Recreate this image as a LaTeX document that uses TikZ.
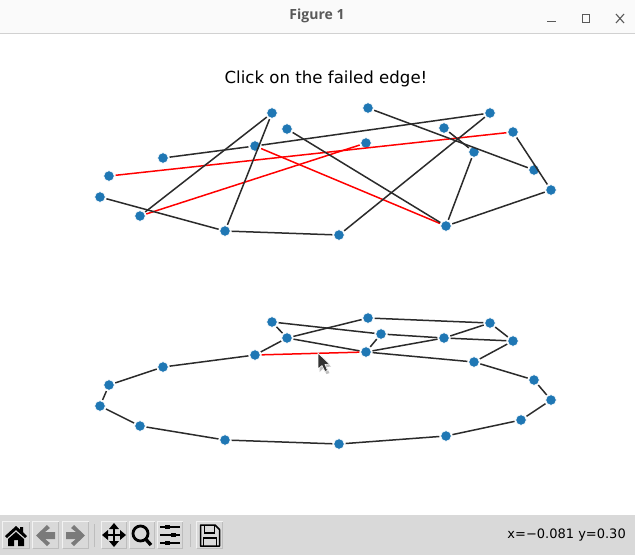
\documentclass[tikz,border=0pt]{standalone}
\usepackage{fontspec}
\setmainfont{DejaVu Sans}
\newfontfamily\titlefont{Open Sans}
\definecolor{nodeblue}{HTML}{1F77B4}
\definecolor{edgedark}{HTML}{2B2B2B}
\definecolor{failred}{HTML}{FF0000}
\definecolor{barbg}{HTML}{FAFAFA}
\definecolor{toolbg}{HTML}{D9D9D9}
\definecolor{btnlight}{HTML}{F2F2F2}
\definecolor{btndark}{HTML}{BDBDBD}
\tikzset{
  x=1pt,y=-1pt,
  gn/.style={circle,fill=nodeblue,draw=white,line width=0.7pt,minimum size=10.6pt,inner sep=0pt,outer sep=1.3pt},
  ge/.style={draw=edgedark,line width=1.5pt},
  re/.style={draw=failred,line width=1.5pt},
  icon/.style={fill=black,draw=none},
  iconline/.style={draw=black,line width=1.6pt},
}
\begin{document}
\begin{tikzpicture}
\useasboundingbox (0,0) rectangle (635,555);
\fill[white] (0,0) rectangle (635,555);
% title bar
\fill[barbg] (0,0) rectangle (635,33);
\draw[color=black!18,line width=1pt] (0,33.5) -- (635,33.5);
\node[font=\titlefont\bfseries\fontsize{14}{16}\selectfont,text=black!65] (wintitle) at (317,16) {Figure 1};
\draw[black!65,line width=1.1pt] (547,21.5) -- (556,21.5);
\draw[black!65,line width=1.1pt] (582.5,14.5) rectangle (589.5,22.5);
\draw[black!65,line width=1.1pt] (616,14) -- (624,23) (624,14) -- (616,23);
\node[font=\fontsize{16.6}{19}\selectfont,text=black] (plottitle) at (326,78.5) {Click on the failed edge!};
% top graph nodes
\foreach \n/\x/\y in {a/272/113,b/287/129,c/368/108,d/490/113,e/513/132,f/444/128,g/474/152,h/534/170,i/551/190,j/446/226,k/339/235,l/225/231,m/140/216,n/100/197,o/109/176,p/163/158,q/255/146,r/366/143}
  \node[gn] (\n) at (\x,\y) {};
\draw[ge] (p) -- (q); \draw[ge] (q) -- (d);
\draw[re] (o) -- (e); \draw[re] (m) -- (r); \draw[re] (q) -- (j);
\draw[ge] (m) -- (a); \draw[ge] (a) -- (l); \draw[ge] (b) -- (j);
\draw[ge] (n) -- (l); \draw[ge] (l) -- (k); \draw[ge] (k) -- (d);
\draw[ge] (c) -- (h); \draw[ge] (f) -- (g); \draw[ge] (g) -- (j);
\draw[ge] (j) -- (i); \draw[ge] (e) -- (i);
% bottom graph nodes
\foreach \n/\x/\y in {A/272/322,B/287/338,C/368/318,T/381/334,D/490/323,E/513/341,F/444/338,S/366/352,G/474/362,H/534/380,I/551/400,U/521/420,J/446/436,K/339/444,L/225/440,M/140/426,N/100/406,O/109/385,P/163/367,Q/255/355}
  \node[gn] (\n) at (\x,\y) {};
\draw[ge] (A) -- (B); \draw[ge] (A) -- (T); \draw[ge] (T) -- (F); \draw[ge] (F) -- (E);
\draw[ge] (B) -- (C); \draw[ge] (B) -- (S); \draw[ge] (C) -- (D); \draw[ge] (D) -- (E);
\draw[ge] (D) -- (F); \draw[ge] (F) -- (S); \draw[ge] (T) -- (S); \draw[ge] (E) -- (G);
\draw[ge] (S) -- (G); \draw[ge] (G) -- (H); \draw[ge] (H) -- (I); \draw[ge] (I) -- (U);
\draw[ge] (U) -- (J); \draw[ge] (J) -- (K); \draw[ge] (K) -- (L); \draw[ge] (L) -- (M);
\draw[ge] (M) -- (N); \draw[ge] (N) -- (O); \draw[ge] (O) -- (P); \draw[ge] (P) -- (Q);
\draw[ge] (Q) -- (B); \draw[re] (Q) -- (S);
% mouse pointer
\fill[black!25] (319.5,355) -- (319.5,372) -- (323.5,368) -- (326.5,374) -- (329.5,373) -- (326.5,367) -- (331,366.5) -- cycle;
\draw[white,line width=0.6pt,fill=black!80] (318,353) -- (318,369) -- (322,365.5) -- (325,371.5) -- (327.5,370.5) -- (325,364.5) -- (329.5,364) -- cycle;
% toolbar
\fill[toolbg] (0,515) rectangle (635,555);
\foreach \x/\w in {2/28,32/27,62/27,101/26,129/26,157/26,196/27}{
  \fill[btnlight] (\x,521) rectangle ++(\w,27);
  \fill[btndark] (\x+1,522) rectangle ++(\w-1,27);
  \fill[toolbg] (\x+1,522) rectangle ++(\w-2,26);
}
\fill[btndark] (94,524) rectangle (95,547);
\fill[btndark] (190,524) rectangle (191,547);
% home
\fill[icon] (16,526) -- (5,536) -- (7,538) -- (16,530) -- (25,538) -- (27,536) -- (23,532) -- (23,527) -- (20,527) -- (20,529.5) -- cycle;
\fill[icon] (16,532) -- (8,539) -- (8,546) -- (14,546) -- (14,540) -- (18,540) -- (18,546) -- (24,546) -- (24,539) -- cycle;
% back / forward
\fill[black!52] (36,535.5) -- (47,525) -- (50,528) -- (45,532) -- (55,532) -- (55,539) -- (45,539) -- (50,543) -- (47,546) -- cycle;
\fill[black!52] (85,535.5) -- (74,525) -- (71,528) -- (76,532) -- (66,532) -- (66,539) -- (76,539) -- (71,543) -- (74,546) -- cycle;
% move
\draw[iconline,line width=2.6pt] (103,535) -- (125,535) (114,524) -- (114,546);
\fill[icon] (114,523) -- (109,529) -- (119,529) -- cycle;
\fill[icon] (114,547) -- (109,541) -- (119,541) -- cycle;
\fill[icon] (102,535) -- (108,530) -- (108,540) -- cycle;
\fill[icon] (126,535) -- (120,530) -- (120,540) -- cycle;
% zoom
\draw[iconline,line width=2.8pt] (140.5,533.5) circle (7.5);
\draw[iconline,line width=3.4pt] (146,539.5) -- (151,545);
% settings
\draw[iconline,line width=1.3pt] (160,527) -- (180,527) (160,535) -- (180,535) (160,543) -- (180,543);
\fill[icon] (165,525) rectangle (170,529);
\fill[icon] (171,533) rectangle (176,537);
\fill[icon] (165,541) rectangle (170,545);
% save
\draw[iconline,line width=1.5pt,line join=round] (200.5,525) -- (215,525) -- (219.5,529.5) -- (219.5,546) -- (200.5,546) -- cycle;
\draw[iconline,line width=1.5pt] (204.5,525) -- (204.5,533) -- (214.5,533) -- (214.5,525);
\draw[iconline,line width=1.3pt] (203.5,546) -- (203.5,538) -- (216.5,538) -- (216.5,546);
\node[anchor=east,font=\fontsize{13}{15}\selectfont,text=black,inner sep=0pt] (coords) at (626,535.5) {x=−0.081 y=0.30};
\end{tikzpicture}
\end{document}
